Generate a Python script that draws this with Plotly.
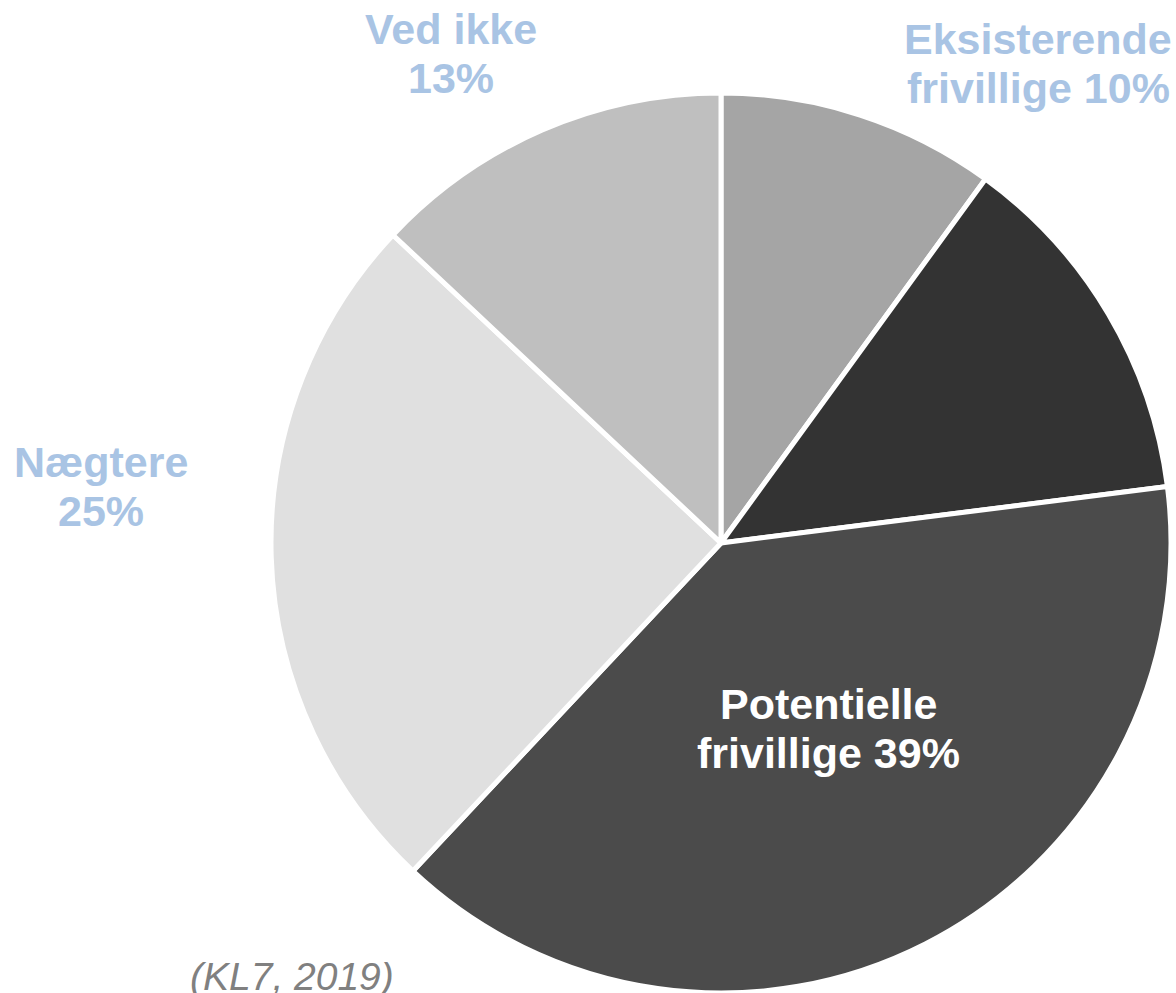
import plotly.graph_objects as go

# Data
categories = ["Eksisterende frivillige", "", "Potentielle frivillige", "Nægtere", "Ved ikke"]
values = [10, 13, 39, 25, 13]
colors = ["#a5a5a5", "#333333", "#4b4b4b", "#e0e0e0", "#bfbfbf"]
label_lines = [
    ["Eksisterende", "frivillige 10%"],
    None,
    ["Potentielle", "frivillige 39%"],
    ["Nægtere", "25%"],
    ["Ved ikke", "13%"],
]
source_text = "(KL7, 2019)"

W, H = 1176, 993

fig = go.Figure()
fig.add_trace(go.Pie(
    labels=categories,
    values=values,
    sort=False,
    direction="clockwise",
    rotation=0,
    textinfo="none",
    hoverinfo="label+percent",
    marker=dict(colors=colors, line=dict(color="white", width=5)),
    domain=dict(x=[271 / W, 1171 / W], y=[0.0, 1 - 93 / H]),
    showlegend=False,
))

# label positions (pixel centres x, baseline y of first line), line spacing
label_pos = [(1038, 54), None, (828, 719), (101, 477), (451, 44)]
line_gap = 49
label_color = ["#a9c4e4", None, "#ffffff", "#a9c4e4", "#a9c4e4"]
fs = 43

anns = []
for lines, pos, col in zip(label_lines, label_pos, label_color):
    if lines is None:
        continue
    cx, by = pos
    for i, ln in enumerate(lines):
        b = by + i * line_gap
        cy = b - 15
        anns.append(dict(
            x=cx / W, y=1 - cy / H, xref="paper", yref="paper",
            text="<b>" + ln + "</b>", showarrow=False,
            xanchor="center", yanchor="middle",
            font=dict(family="Liberation Sans, Arial, sans-serif", size=fs, color=col),
        ))

anns.append(dict(
    x=292 / W, y=1 - (990 - 14) / H, xref="paper", yref="paper",
    text="<i>" + source_text + "</i>", showarrow=False,
    xanchor="center", yanchor="middle",
    font=dict(family="Liberation Sans, Arial, sans-serif", size=39, color="#808080"),
))

fig.update_layout(
    width=W, height=H,
    margin=dict(l=0, r=0, t=0, b=0),
    paper_bgcolor="white", plot_bgcolor="white",
    annotations=anns,
)

fig.write_html(
    "out.html",
    config={"displayModeBar": False},
    post_script="document.body.style.margin='0';document.body.style.padding='0';document.body.style.overflow='hidden';",
)
